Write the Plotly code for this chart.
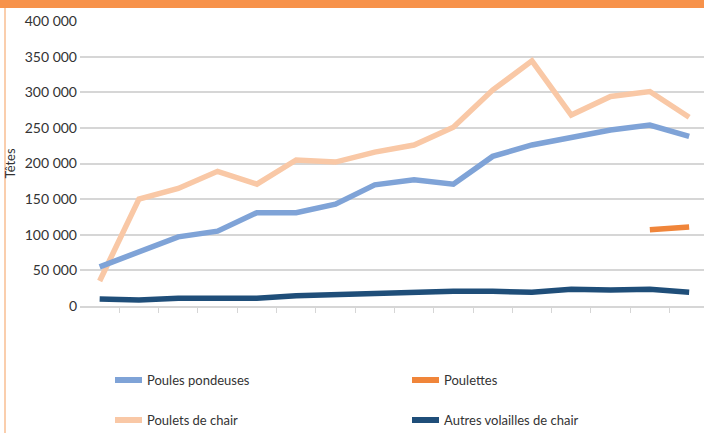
"""
Effectifs de volailles (têtes) - recreation with Plotly
"""

import plotly.graph_objects as go

# Data
periods = list(range(16))
poules_pondeuses = [55000, 77000, 97000, 105000, 131000, 131000, 143000, 170000,
                    177000, 171000, 210000, 226000, 237000, 247000, 254000, 238000]
poulettes = [None] * 14 + [107000, 111000]
poulets_de_chair = [35000, 150000, 165000, 189000, 171000, 205000, 202000, 216000,
                    226000, 251000, 303000, 344000, 268000, 294000, 301000, 265000]
autres_volailles = [10000, 8500, 11000, 11200, 11000, 14500, 16500, 17300,
                    20000, 20600, 20600, 19300, 23400, 22400, 23400, 19300]

y_ticks = [0, 50000, 100000, 150000, 200000, 250000, 300000, 350000, 400000]
tick_positions = [i + 0.5 for i in range(15)]

COLORS = {
    'pondeuses': '#7FA3D7',
    'poulettes': '#F0853A',
    'chair': '#F9C8A6',
    'autres': '#1F4E79',
    'grid': '#D6D6D6',
    'text': '#333333',
    'accent': '#F7924A',
    'accent_light': '#F9BE92',
}

series = [
    ('Poules pondeuses', poules_pondeuses, COLORS['pondeuses']),
    ('Poulettes', poulettes, COLORS['poulettes']),
    ('Poulets de chair', poulets_de_chair, COLORS['chair']),
    ('Autres volailles de chair', autres_volailles, COLORS['autres']),
]

# Plot area in pixels
W, H = 704, 433
L, R, T, B = 80, 0, 21, 127
PW, PH = W - L - R, H - T - B


def px_x(p):
    return (p - L) / PW


def px_y(p):
    return (H - B - p) / PH


fig = go.Figure()

# draw order: light series first, dark on top
for name, values, color in [series[2], series[0], series[3], series[1]]:
    fig.add_trace(go.Scatter(
        x=periods,
        y=values,
        mode='lines',
        name=name,
        line=dict(color=color, width=5.5),
        connectgaps=False,
        showlegend=False,
        hovertemplate='%{y:,.0f}<extra>' + name + '</extra>'
    ))

shapes = [
    # orange band on top
    dict(type='rect', xref='paper', yref='paper',
         x0=px_x(0), x1=px_x(W), y0=px_y(8), y1=px_y(0),
         fillcolor=COLORS['accent'], line=dict(width=0), layer='above'),
    # thin card border on the left
    dict(type='line', xref='paper', yref='paper',
         x0=px_x(5), x1=px_x(5), y0=px_y(8), y1=px_y(H + 2),
         line=dict(color=COLORS['accent_light'], width=1.5)),
]

annotations = []

# manual legend, 2 columns x 2 rows
legend_slots = [(115, 380), (412, 380), (115, 420), (412, 420)]
for (name, _, color), (lx, ly) in zip(series, legend_slots):
    shapes.append(dict(
        type='line', xref='paper', yref='paper',
        x0=px_x(lx), x1=px_x(lx + 27), y0=px_y(ly), y1=px_y(ly),
        line=dict(color=color, width=6)
    ))
    annotations.append(dict(
        text=name, xref='paper', yref='paper',
        x=px_x(lx + 30), y=px_y(ly), xanchor='left', yanchor='middle',
        showarrow=False, font=dict(size=13, color=COLORS['text'])
    ))

fig.update_layout(
    width=W,
    height=H,
    margin=dict(l=L, r=R, t=T, b=B, pad=0),
    plot_bgcolor='white',
    paper_bgcolor='white',
    font=dict(family='Lato, Open Sans, sans-serif', color=COLORS['text'], size=13),
    separators=', ',
    showlegend=False,
    shapes=shapes,
    annotations=annotations,
)

fig.update_xaxes(
    range=[-0.5, -0.5 + PW / 39.3],
    showgrid=False,
    zeroline=False,
    showline=True,
    linecolor=COLORS['grid'],
    linewidth=1.5,
    tickmode='array',
    tickvals=tick_positions,
    showticklabels=False,
    ticks='outside',
    ticklen=5,
    tickcolor=COLORS['grid'],
    tickwidth=1,
)

fig.update_yaxes(
    range=[0, 400000],
    tickmode='array',
    tickvals=y_ticks,
    tickformat=',d',
    gridcolor=COLORS['grid'],
    gridwidth=1.5,
    zeroline=False,
    showline=False,
    ticks='',
    ticklabelstandoff=2,
    tickfont=dict(size=14, color=COLORS['text']),
    title=dict(text='Têtes', font=dict(size=13, color=COLORS['text']), standoff=6),
)

# the page body keeps an 8px margin by default; drop it so the chart fills the window
fig.write_html(
    "out.html",
    config={'displayModeBar': False},
    post_script="document.body.style.margin='0px';",
)
